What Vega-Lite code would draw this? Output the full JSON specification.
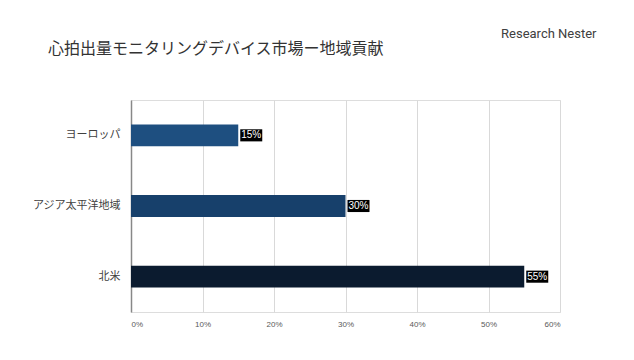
{
  "$schema": "https://vega.github.io/schema/vega-lite/v6.json",
  "autosize": "none",
  "width": 429,
  "height": 212,
  "padding": {"left": 131, "top": 100, "right": 74, "bottom": 48},
  "background": "white",
  "title": {
    "text": "心拍出量モニタリングデバイス市場ー地域貢献",
    "anchor": "start",
    "frame": "group",
    "dx": -83,
    "font": "Noto Sans CJK JP",
    "fontSize": 16,
    "fontWeight": "normal",
    "color": "#333333",
    "offset": -30
  },
  "data": {
    "values": [
      {"region": "ヨーロッパ", "share": 0.15, "label": "15%"},
      {"region": "アジア太平洋地域", "share": 0.30, "label": "30%"},
      {"region": "北米", "share": 0.55, "label": "55%"}
    ]
  },
  "encoding": {
    "y": {
      "field": "region",
      "type": "nominal",
      "sort": null,
      "scale": {"paddingInner": 0.69, "paddingOuter": 0.345},
      "axis": {
        "title": null,
        "ticks": false,
        "labelPadding": 11,
        "labelFont": "Noto Sans CJK JP",
        "labelFontSize": 11,
        "labelColor": "#404040",
        "domainColor": "#888888",
        "domainWidth": 1.5
      }
    }
  },
  "layer": [
    {
      "mark": {"type": "bar"},
      "encoding": {
        "x": {
          "field": "share",
          "type": "quantitative",
          "scale": {"domain": [0, 0.6]},
          "axis": {
            "title": null,
            "format": ".0%",
            "values": [0, 0.1, 0.2, 0.3, 0.4, 0.5, 0.6],
            "domain": false,
            "ticks": false,
            "labelPadding": 8,
            "labelFont": "Liberation Sans",
            "labelFontSize": 8,
            "labelColor": "#595959",
            "gridColor": "#d9d9d9",
            "gridWidth": 1
          }
        },
        "color": {
          "field": "region",
          "type": "nominal",
          "scale": {
            "domain": ["ヨーロッパ", "アジア太平洋地域", "北米"],
            "range": ["#1e4f80", "#17406b", "#0b1b2f"]
          },
          "legend": null
        }
      }
    },
    {
      "mark": {
        "type": "point",
        "shape": "M-1,-0.55H1V0.55H-1Z",
        "filled": true,
        "color": "black",
        "opacity": 1,
        "size": 484,
        "xOffset": 13
      },
      "encoding": {
        "x": {"field": "share", "type": "quantitative", "axis": null}
      }
    },
    {
      "mark": {
        "type": "text",
        "dx": 13,
        "align": "center",
        "baseline": "middle",
        "color": "white",
        "font": "Liberation Sans",
        "fontSize": 10
      },
      "encoding": {
        "x": {
          "field": "share",
          "type": "quantitative",
          "axis": {
            "orient": "top",
            "labels": false,
            "ticks": false,
            "domain": false,
            "grid": false,
            "title": "Research Nester",
            "titleX": 465,
            "titleY": -67,
            "titleAlign": "right",
            "titleBaseline": "middle",
            "titleFont": "Roboto",
            "titleFontSize": 13,
            "titleFontWeight": "normal",
            "titleColor": "#404040"
          }
        },
        "text": {"field": "label"}
      }
    }
  ],
  "resolve": {"axis": {"x": "independent"}}
}
